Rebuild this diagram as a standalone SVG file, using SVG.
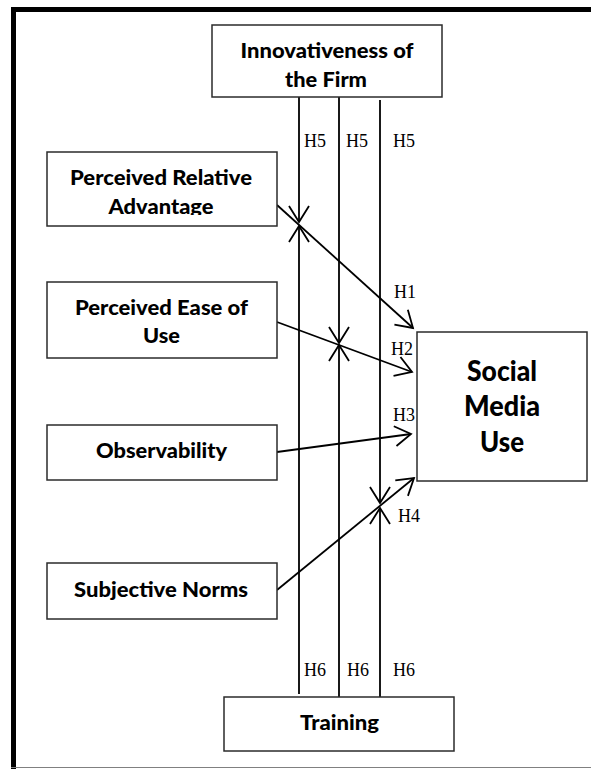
<svg xmlns="http://www.w3.org/2000/svg" width="591" height="769" viewBox="0 0 591 769">
  <style>
    .box { fill: #ffffff; stroke: #2b2b2b; stroke-width: 1.5; }
    .lbl { font-family: Lato, "Open Sans", "Liberation Sans", sans-serif; font-weight: 900; font-size: 21.5px; fill: #000000; text-anchor: middle; }
    .big { font-size: 29px; }
    .hyp { font-family: "Liberation Serif", "Times New Roman", serif; font-size: 18px; fill: #000000; }
    .wire { fill: none; stroke: #000000; stroke-width: 1.8; }
    .arrow { marker-end: url(#vhead); }
  </style>
  <defs>
    <marker id="vhead" markerUnits="userSpaceOnUse" markerWidth="24" markerHeight="24" viewBox="-20 -12 22 24" refX="0" refY="0" orient="auto">
      <path d="M-16,-10 L0,0 L-16,10" fill="none" stroke="#000000" stroke-width="1.8"/>
    </marker>
    <clipPath id="clipPra">
      <rect x="47" y="152" width="230" height="63"/>
    </clipPath>
  </defs>

  <!-- page frame -->
  <g id="frame">
    <rect x="11" y="7" width="5" height="762" fill="#000000"/>
    <rect x="11" y="7" width="580" height="5" fill="#000000"/>
    <line x1="11" y1="767.5" x2="591" y2="767.5" stroke="#808080" stroke-width="1.2"/>
  </g>

  <!-- connectors -->
  <g id="connectors">
    <!-- moderator lines from Innovativeness of the Firm (H5) -->
    <line class="wire arrow" x1="299" y1="97" x2="299" y2="222"/>
    <line class="wire arrow" x1="339" y1="97" x2="339" y2="343"/>
    <line class="wire arrow" x1="380" y1="100" x2="380" y2="503"/>
    <!-- moderator lines from Training (H6) -->
    <line class="wire arrow" x1="299" y1="694" x2="299" y2="226"/>
    <line class="wire arrow" x1="339" y1="697" x2="339" y2="345"/>
    <line class="wire arrow" x1="380" y1="699" x2="380" y2="508"/>
    <!-- direct paths H1-H4 -->
    <line class="wire arrow" x1="277" y1="205" x2="413" y2="328"/>
    <line class="wire arrow" x1="277" y1="322" x2="412" y2="372"/>
    <line class="wire arrow" x1="277" y1="452" x2="411" y2="434"/>
    <line class="wire arrow" x1="277" y1="590" x2="414" y2="478"/>
  </g>

  <!-- hypothesis labels -->
  <g id="hypotheses">
    <text class="hyp" x="304" y="147">H5</text>
    <text class="hyp" x="346" y="147">H5</text>
    <text class="hyp" x="393" y="147">H5</text>
    <text class="hyp" x="394" y="298">H1</text>
    <text class="hyp" x="391" y="355">H2</text>
    <text class="hyp" x="393" y="421">H3</text>
    <text class="hyp" x="398" y="522">H4</text>
    <text class="hyp" x="304" y="676">H6</text>
    <text class="hyp" x="347" y="676">H6</text>
    <text class="hyp" x="393" y="676">H6</text>
  </g>

  <g id="innovativeness">
    <rect class="box" x="212" y="25" width="230" height="72"/>
    <text class="lbl" x="327" y="58" textLength="173" lengthAdjust="spacingAndGlyphs">Innovativeness of</text>
    <text class="lbl" x="326" y="87" textLength="82" lengthAdjust="spacingAndGlyphs">the Firm</text>
  </g>

  <g id="relative-advantage">
    <rect class="box" x="47" y="152" width="230" height="74"/>
    <g clip-path="url(#clipPra)">
      <text class="lbl" x="161" y="185" textLength="182" lengthAdjust="spacingAndGlyphs">Perceived Relative</text>
      <text class="lbl" x="161" y="214" textLength="105" lengthAdjust="spacingAndGlyphs">Advantage</text>
    </g>
  </g>

  <g id="ease-of-use">
    <rect class="box" x="47" y="282" width="230" height="76"/>
    <text class="lbl" x="161.5" y="315" textLength="173" lengthAdjust="spacingAndGlyphs">Perceived Ease of</text>
    <text class="lbl" x="161.5" y="343" textLength="37" lengthAdjust="spacingAndGlyphs">Use</text>
  </g>

  <g id="observability">
    <rect class="box" x="47" y="425" width="230" height="55"/>
    <text class="lbl" x="161.5" y="458" textLength="131" lengthAdjust="spacingAndGlyphs">Observability</text>
  </g>

  <g id="subjective-norms">
    <rect class="box" x="47" y="563" width="230" height="56"/>
    <text class="lbl" x="161" y="597" textLength="174" lengthAdjust="spacingAndGlyphs">Subjective Norms</text>
  </g>

  <g id="social-media-use">
    <rect class="box" x="417" y="332" width="170" height="149"/>
    <text class="lbl big" x="502" y="381" textLength="70" lengthAdjust="spacingAndGlyphs">Social</text>
    <text class="lbl big" x="502" y="416" textLength="76" lengthAdjust="spacingAndGlyphs">Media</text>
    <text class="lbl big" x="502" y="452" textLength="44" lengthAdjust="spacingAndGlyphs">Use</text>
  </g>

  <g id="training">
    <rect class="box" x="224" y="697" width="230" height="54"/>
    <text class="lbl" x="339.5" y="730" textLength="79" lengthAdjust="spacingAndGlyphs">Training</text>
  </g>
</svg>
